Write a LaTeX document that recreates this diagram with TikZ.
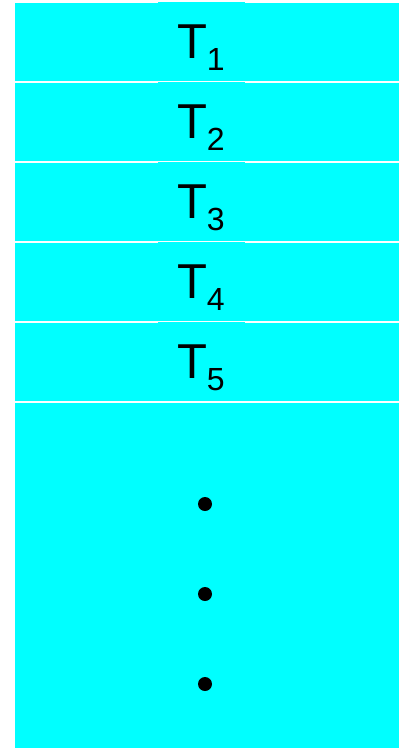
\documentclass[tikz,border=0pt]{standalone}
\usepackage{fontspec}
\setmainfont{Liberation Sans}
\definecolor{bandcyan}{RGB}{0,255,255}
\tikzset{
  band/.style={fill=bandcyan, draw=none},
  tbox/.style={fill=bandcyan, draw=none},
  lbl/.style={anchor=base west, inner sep=0pt, outer sep=0pt},
  dotmark/.style={fill=black, draw=none}
}
\newcommand{\tlabel}[1]{{\fontsize{49}{49}\selectfont T}\raisebox{-12pt}{\fontsize{32}{32}\selectfont #1}}
\begin{document}
\begin{tikzpicture}[x=1pt,y=1pt]
\useasboundingbox (0,0) rectangle (399,-748);
\fill[white] (0,0) rectangle (399,-748);
\foreach \k in {0,...,4}{
  \fill[band] (15,{-(3+80*\k)}) rectangle (399,{-(81+80*\k)});
  \fill[tbox] (158,{-(1.5+80*\k)}) rectangle (245,{-(80.6+80*\k)});
}
\fill[band] (15,-403) rectangle (399,-748);
\foreach \k/\n in {0/1,1/2,2/3,3/4,4/5}{
  \node[lbl] (t\n) at (177,{-(58+80*\k)}) {\tlabel{\n}};
}
\fill[dotmark] (205,-504) circle (7);
\fill[dotmark] (205,-594) circle (7);
\fill[dotmark] (205,-684) circle (7);
\end{tikzpicture}
\end{document}
